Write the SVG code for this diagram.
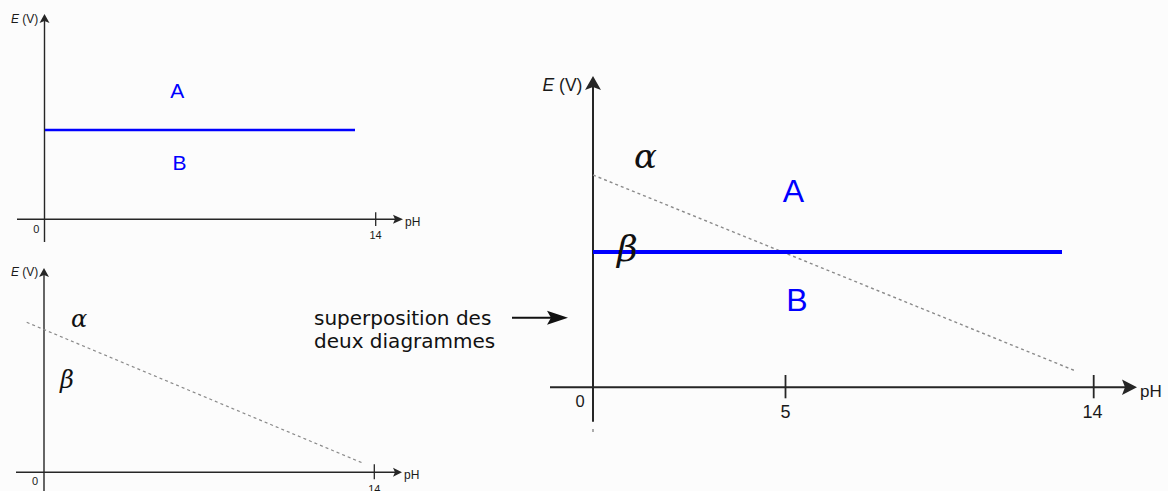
<svg xmlns="http://www.w3.org/2000/svg" width="1168" height="491" viewBox="0 0 1168 491">
<style>
.ax{stroke:#262626;fill:none}
.ah{fill:#262626;stroke:none}
.dash{stroke:#8a8a8a;fill:none;stroke-dasharray:3 3}
.blue{stroke:#0000ff;fill:none}
.lbl{font-family:"Liberation Sans",Arial,sans-serif;fill:#1a1a1a}
.bl{font-family:"Liberation Sans",Arial,sans-serif;fill:#0000ff}
.gr{font-family:"DejaVu Serif",serif;font-style:italic;fill:#111}
.txt{font-family:"DejaVu Sans",sans-serif;fill:#111}
</style>
<rect width="1168" height="491" fill="#fcfcfc"/>

<g id="panel-top">
  <line class="ax" stroke-width="1.4" x1="44.5" y1="242" x2="44.5" y2="20"/>
  <path class="ah" d="M44.5,14 L49.5,23 L44.5,21 L39.5,23 Z"/>
  <line class="ax" stroke-width="1.4" x1="17" y1="219.3" x2="397" y2="219.3"/>
  <path class="ah" d="M403,219.3 L393,223.8 L395,219.3 L393,214.8 Z"/>
  <line class="ax" stroke-width="1.3" x1="375.7" y1="212.3" x2="375.7" y2="226"/>
  <line class="blue" stroke-width="2.6" x1="45" y1="130" x2="355" y2="130"/>
  <text class="lbl" x="11" y="22.5" font-size="12"><tspan font-style="italic">E</tspan> (V)</text>
  <text class="lbl" x="405" y="226" font-size="12">pH</text>
  <text class="lbl" x="375.5" y="239" font-size="11" text-anchor="middle">14</text>
  <text class="lbl" x="36.3" y="232.7" font-size="11" text-anchor="middle">0</text>
  <text class="bl" x="177.3" y="98.3" font-size="21" text-anchor="middle">A</text>
  <text class="bl" x="179.5" y="170" font-size="21" text-anchor="middle">B</text>
</g>

<g id="panel-bottom">
  <line class="ax" stroke-width="1.4" x1="44" y1="491" x2="44" y2="274"/>
  <path class="ah" d="M44,268 L49,277 L44,275 L39,277 Z"/>
  <line class="ax" stroke-width="1.4" x1="16" y1="472.3" x2="396" y2="472.3"/>
  <path class="ah" d="M402,472.3 L393,476.8 L395,472.3 L393,467.8 Z"/>
  <line class="ax" stroke-width="1.3" x1="374.3" y1="464.3" x2="374.3" y2="479.3"/>
  <line class="dash" stroke-width="1.2" x1="26.7" y1="322.3" x2="363.3" y2="463.3"/>
  <text class="lbl" x="11" y="276" font-size="12"><tspan font-style="italic">E</tspan> (V)</text>
  <text class="lbl" x="404" y="479" font-size="12">pH</text>
  <text class="lbl" x="374.3" y="493" font-size="11" text-anchor="middle">14</text>
  <text class="lbl" x="35" y="485" font-size="11" text-anchor="middle">0</text>
  <text class="gr" x="71" y="327" font-size="24">α</text>
  <text class="gr" x="60" y="388" font-size="24">β</text>
</g>

<g id="note">
  <text class="txt" x="314" y="325" font-size="20">superposition des</text>
  <text class="txt" x="314" y="348" font-size="20">deux diagrammes</text>
</g>

<g id="connectors">
  <line stroke="#111" stroke-width="2" x1="512" y1="317.7" x2="553" y2="317.7"/>
  <path fill="#111" d="M568,317.7 L547,324.7 L551,317.7 L547,310.7 Z"/>
</g>

<g id="panel-main">
  <line class="ax" stroke-width="2" x1="593" y1="421.7" x2="593" y2="86"/>
  <path class="ah" d="M593,76 L601,90 L593,87 L585,90 Z"/>
  <line class="ax" stroke-width="2" x1="550" y1="387.3" x2="1128" y2="387.3"/>
  <path class="ah" d="M1137,387.3 L1122,395 L1125,387.3 L1122,379.6 Z"/>
  <line class="ax" stroke-width="1.8" x1="785.5" y1="375" x2="785.5" y2="398.3"/>
  <line class="ax" stroke-width="1.8" x1="1093.7" y1="375" x2="1093.7" y2="398.3"/>
  <line class="dash" stroke-width="1.4" x1="593" y1="175" x2="1075" y2="370.7"/>
  <line class="dash" stroke-width="1.4" x1="593" y1="429" x2="593" y2="432"/>
  <line class="blue" stroke-width="3.8" x1="593" y1="252" x2="1062" y2="252"/>
  <text class="lbl" x="542.5" y="91" font-size="17.5"><tspan font-style="italic">E</tspan> (V)</text>
  <text class="lbl" x="1140" y="397" font-size="17">pH</text>
  <text class="lbl" x="580" y="406.7" font-size="16.5" text-anchor="middle">0</text>
  <text class="lbl" x="785.5" y="418.3" font-size="18" text-anchor="middle">5</text>
  <text class="lbl" x="1092.5" y="418.3" font-size="18" text-anchor="middle">14</text>
  <text class="bl" x="793.5" y="202" font-size="32" text-anchor="middle">A</text>
  <text class="bl" x="797" y="311" font-size="32" text-anchor="middle">B</text>
  <text class="gr" x="634" y="168" font-size="34">α</text>
  <text class="gr" x="617" y="261" font-size="36">β</text>
</g>
</svg>
